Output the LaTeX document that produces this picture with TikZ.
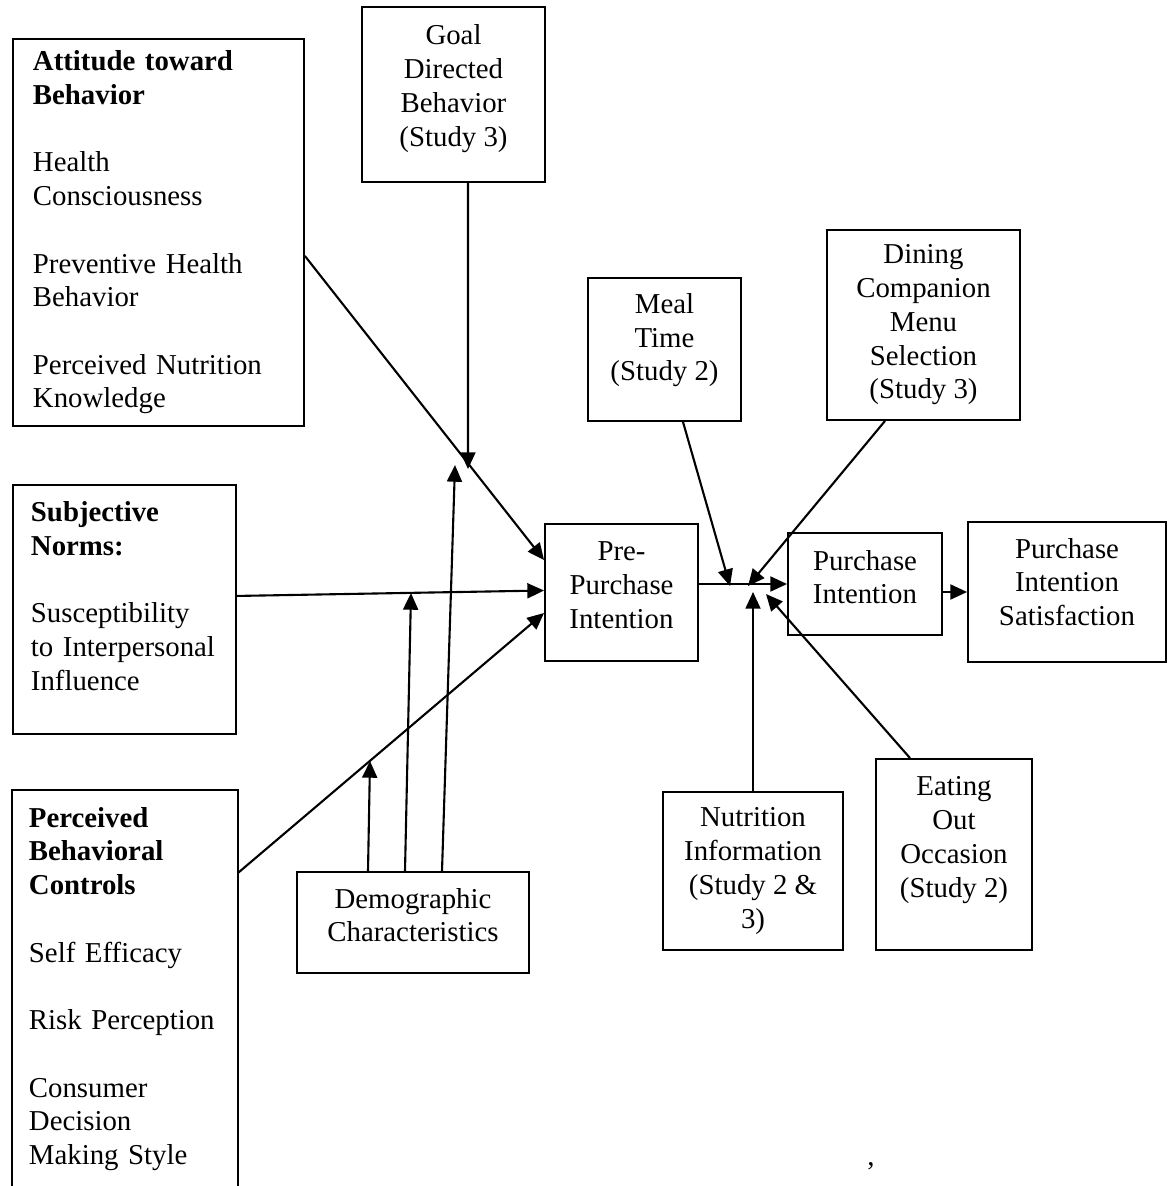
\documentclass[tikz,border=0pt]{standalone}
\usepackage{fontspec}
\setmainfont{Liberation Serif}
\usetikzlibrary{arrows.meta,calc}

% extra depth on the last line moves a box text upwards
\newcommand{\lift}[1]{\rule[-#1]{0pt}{0pt}}

\begin{document}
\begin{tikzpicture}[x=0.02cm,y=-0.02cm,font=\fontsize{16.4}{19.2}\selectfont,
  box/.style={draw,line width=1.1pt,align=center,inner sep=0pt},
  lbox/.style={draw,line width=1.1pt,align=left,anchor=north west,inner ysep=0pt},
  arr/.style={-{Triangle[length=9.5pt,width=8.5pt]},line width=1.2pt}]
\useasboundingbox (0,0) rectangle (1167,1186);

% left column
\node[lbox,inner xsep=0.4cm,text width=5.02cm,minimum height=7.74cm] (att) at (12,38)
  {\textbf{Attitude toward}\\\textbf{Behavior}\\[19.2pt]Health\\Consciousness\\[19.2pt]Preventive Health\\Behavior\\[19.2pt]Perceived Nutrition\\Knowledge};
\node[lbox,inner xsep=0.36cm,text width=3.74cm,minimum height=4.98cm] (subj) at (12,484)
  {\textbf{Subjective}\\\textbf{Norms:}\\[19.2pt]Susceptibility\\to Interpersonal\\Influence\lift{15.4pt}};
\node[lbox,draw=none,inner xsep=0.32cm,text width=3.84cm,minimum height=8cm] (pbc) at (12,790)
  {\textbf{Perceived}\\\textbf{Behavioral}\\\textbf{Controls}\\[19.2pt]Self Efficacy\\[19.2pt]Risk Perception\\[19.2pt]Consumer\\Decision\\Making Style\lift{5.7pt}};
\draw[line width=1.1pt] (pbc.south west) |- (pbc.north east) -- (pbc.south east);

% moderators and outcomes
\node[box,minimum width=3.66cm,minimum height=3.5cm] (goal) at (453.5,94.5) {Goal\\Directed\\Behavior\\(Study 3)\lift{10.2pt}};
\node[box,minimum width=4.64cm,minimum height=2.02cm] (demo) at (413,922.5) {Demographic\\Characteristics\lift{8.5pt}};
\node[box,minimum width=3.06cm,minimum height=2.74cm] (pre) at (621.5,592.5) {Pre-\\Purchase\\Intention\lift{8.5pt}};
\node[box,minimum width=3.06cm,minimum height=2.86cm] (meal) at (664.5,349.5) {Meal\\Time\\(Study 2)\lift{14.2pt}};
\node[box,minimum width=3.86cm,minimum height=3.8cm] (dining) at (923.5,325) {Dining\\Companion\\Menu\\Selection\\(Study 3)};
\node[box,minimum width=3.08cm,minimum height=2.04cm] (pi) at (865,584) {Purchase\\Intention\lift{8pt}};
\node[box,minimum width=3.96cm,minimum height=2.8cm] (pis) at (1067,592) {Purchase\\Intention\\Satisfaction\lift{11.4pt}};
\node[box,minimum width=3.6cm,minimum height=3.16cm] (nutr) at (753,871) {Nutrition\\Information\\(Study 2 \&\\3)};
\node[box,minimum width=3.12cm,minimum height=3.82cm] (eating) at (954,854.5) {Eating\\Out\\Occasion\\(Study 2)\lift{20pt}};
\node (mark) at (871,1166) {,};

% ends of the moderating arrows
\coordinate (g1) at (468,469);
\coordinate (d1) at (370,761);
\coordinate (d2) at (411,593);
\coordinate (d3) at (455,465);
\coordinate (j1) at (730,586);
\coordinate (j2) at (748,586);
\coordinate (j3) at (753,592);
\coordinate (j4) at (766,594);

\draw[arr] ($(att.east)+(0,23.5)$) -- ($(pre.west)+(0,-32.5)$);
\draw[arr] ($(subj.east)+(0,-13.5)$) -- ($(pre.west)+(0,-2)$);
\draw[arr] ($(pbc.north east)+(0,83)$) -- ($(pre.west)+(0,20.5)$);
\draw[arr] ($(goal.south)+(14.5,0)$) -- (g1);
\draw[arr] ($(demo.north)+(-45,0)$) -- (d1);
\draw[arr] ($(demo.north)+(-8,0)$) -- (d2);
\draw[arr] ($(demo.north)+(29,0)$) -- (d3);

\draw[arr] (pre.east |- pi.west) -- (pi.west);
\draw[arr] ($(meal.south)+(18.5,0)$) -- (j1);
\draw[arr] ($(dining.south)+(-38.5,0)$) -- (j2);
\draw[arr] (nutr.north) -- (j3);
\draw[arr] ($(eating.north)+(-44,0)$) -- (j4);
\draw[arr] (pi.east |- pis.west) -- (pis.west);
\end{tikzpicture}
\end{document}
